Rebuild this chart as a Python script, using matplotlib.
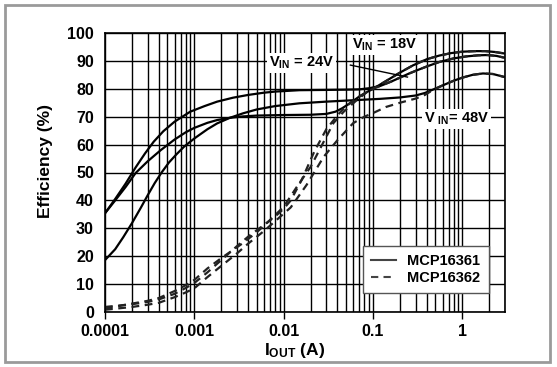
import matplotlib
matplotlib.use("Agg")
import matplotlib.pyplot as plt
from matplotlib.patches import Rectangle
from matplotlib.lines import Line2D

plt.rcParams['font.family'] = ['Liberation Sans', 'DejaVu Sans']
plt.rcParams['font.weight'] = 'bold'
plt.rcParams['mathtext.fontset'] = 'custom'
plt.rcParams['mathtext.rm'] = 'Liberation Sans:bold'
plt.rcParams['mathtext.it'] = 'Liberation Sans:bold'
plt.rcParams['mathtext.bf'] = 'Liberation Sans:bold'

# ---- data ----
# MCP16361 (solid)
i_361_24v = [1e-4, 1.3e-4, 1.7e-4, 2.2e-4, 2.8e-4, 3.5e-4, 4.5e-4, 6e-4, 9e-4, 1.3e-3, 1.8e-3, 2.7e-3, 4e-3, 6e-3, 8e-3, 0.015, 0.03, 0.05, 0.07, 0.09, 0.12, 0.16, 0.2, 0.25, 0.32, 0.4, 0.55, 0.8, 1.1, 1.5, 1.9, 2.4, 2.9]
e_361_24v = [35.4, 40.5, 46.0, 51.8, 56.8, 61.0, 64.8, 68.2, 71.8, 73.8, 75.4, 76.8, 77.8, 78.6, 79.0, 79.5, 79.6, 79.7, 79.8, 80.2, 81.0, 82.6, 84.0, 85.4, 86.8, 88.0, 89.6, 90.9, 91.6, 92.0, 92.1, 91.8, 91.2]

i_361_18v = [1e-4, 1.3e-4, 1.7e-4, 2.2e-4, 3e-4, 4.2e-4, 6e-4, 8e-4, 1e-3, 1.4e-3, 1.8e-3, 2.5e-3, 3.5e-3, 5e-3, 0.01, 0.02, 0.03, 0.038, 0.045, 0.055, 0.07, 0.085, 0.1, 0.14, 0.2, 0.28, 0.4, 0.55, 0.75, 1.0, 1.4, 1.8, 2.3, 2.9]
e_361_18v = [35.4, 40.0, 44.8, 49.8, 54.0, 58.0, 61.8, 64.4, 66.0, 67.8, 68.8, 69.6, 70.1, 70.4, 70.6, 70.7, 71.0, 71.8, 73.0, 74.8, 77.2, 78.8, 80.0, 82.8, 85.8, 88.4, 90.6, 91.9, 92.8, 93.3, 93.5, 93.5, 93.2, 92.7]

i_361_48v = [1e-4, 1.3e-4, 1.6e-4, 2e-4, 2.5e-4, 3e-4, 3.6e-4, 4.3e-4, 5.2e-4, 6.3e-4, 7.7e-4, 1e-3, 1.4e-3, 1.8e-3, 2.5e-3, 3.5e-3, 5e-3, 8e-3, 0.015, 0.03, 0.06, 0.12, 0.2, 0.3, 0.38, 0.46, 0.6, 0.8, 1.0, 1.3, 1.7, 2.2, 2.9]
e_361_48v = [18.6, 22.5, 26.8, 31.8, 37.2, 41.8, 46.2, 50.0, 53.6, 56.5, 59.3, 62.2, 65.5, 67.6, 69.6, 71.2, 72.6, 73.8, 74.8, 75.4, 75.9, 76.4, 76.9, 77.6, 78.5, 79.6, 81.2, 82.9, 84.0, 85.0, 85.5, 85.3, 84.3]

# MCP16362 (dashed)
i_362_18v = [1e-4, 2e-4, 3e-4, 4e-4, 6e-4, 8e-4, 1e-3, 1.4e-3, 2e-3, 3e-3, 4e-3, 6e-3, 8e-3, 0.01, 0.012, 0.016, 0.022, 0.03, 0.04, 0.045, 0.055, 0.07, 0.085, 0.1, 0.14, 0.2, 0.28, 0.4, 0.55, 0.75, 1.0, 1.4, 1.8, 2.3, 2.9]
e_362_18v = [1.8, 2.8, 3.6, 4.5, 6.5, 8.6, 10.4, 14.2, 18.6, 23.6, 27.0, 31.2, 34.2, 37.0, 40.0, 47.5, 57.5, 65.5, 70.5, 72.3, 74.8, 77.2, 78.8, 80.0, 82.8, 85.8, 88.4, 90.6, 91.9, 92.8, 93.3, 93.5, 93.5, 93.2, 92.7]

i_362_24v = [1e-4, 2e-4, 3e-4, 4e-4, 6e-4, 8e-4, 1e-3, 1.4e-3, 2e-3, 3.5e-3, 5e-3, 6.5e-3, 0.01, 0.014, 0.02, 0.026, 0.036, 0.047, 0.065, 0.09, 0.12, 0.16, 0.2, 0.25, 0.32, 0.4, 0.55, 0.8, 1.1, 1.5, 1.9, 2.4, 2.9]
e_362_24v = [1.2, 3.0, 4.0, 5.0, 7.5, 9.6, 11.5, 15.6, 19.3, 24.7, 28.6, 31.9, 37.7, 44.8, 52.0, 59.0, 67.7, 71.8, 75.8, 79.4, 81.0, 82.6, 84.0, 85.4, 86.8, 88.0, 89.6, 90.9, 91.6, 92.0, 92.1, 91.8, 91.2]

i_362_48v = [1e-4, 2e-4, 3e-4, 4e-4, 6e-4, 8e-4, 1e-3, 1.4e-3, 2e-3, 3e-3, 4e-3, 6e-3, 8e-3, 0.012, 0.018, 0.028, 0.04, 0.06, 0.08, 0.1, 0.14, 0.2, 0.3, 0.38, 0.46, 0.6, 0.8, 1.0, 1.3, 1.7, 2.2, 2.9]
e_362_48v = [0.8, 1.8, 2.6, 3.3, 5.3, 7.0, 8.5, 12.5, 16.5, 21.0, 24.5, 29.0, 32.5, 37.5, 45.5, 55.6, 61.6, 67.7, 70.0, 71.3, 73.5, 75.0, 76.5, 77.8, 79.4, 81.2, 82.9, 84.0, 85.0, 85.5, 85.3, 84.3]

x_ticks = [0.0001, 0.001, 0.01, 0.1, 1]
x_tick_labels = ['0.0001', '0.001', '0.01', '0.1', '1']
y_ticks = list(range(0, 101, 10))
legend_labels = ['MCP16361', 'MCP16362']

# ---- figure ----
W, H = 557, 367
fig = plt.figure(figsize=(W / 100, H / 100), dpi=100)
fig.patch.set_facecolor('white')

# outer gray frame
fig.patches.append(Rectangle((5 / W, 1 - 362 / H), (550 - 5) / W, (362 - 5) / H,
                             transform=fig.transFigure, fill=False,
                             edgecolor='#9a9a9a', linewidth=2))

ax = fig.add_axes([105 / W, 1 - 312 / H, 400 / W, 279 / H])
ax.set_xscale('log')
ax.set_xlim(1e-4, 3.0)
ax.set_ylim(0, 100)

ax.grid(True, which='major', color='black', linewidth=1.0)
ax.grid(True, which='minor', axis='x', color='black', linewidth=1.0)
ax.set_axisbelow(True)

lw = 1.6
ax.plot(i_361_24v, e_361_24v, color='black', lw=lw, ls='-')
ax.plot(i_361_18v, e_361_18v, color='black', lw=lw, ls='-')
ax.plot(i_361_48v, e_361_48v, color='black', lw=lw, ls='-')
dash = (0, (3.5, 2.5))
ax.plot(i_362_18v, e_362_18v, color='#222222', lw=lw, ls=dash)
ax.plot(i_362_24v, e_362_24v, color='#222222', lw=lw, ls=dash)
ax.plot(i_362_48v, e_362_48v, color='#222222', lw=lw, ls=dash)

ax.set_xticks(x_ticks)
ax.set_xticklabels(x_tick_labels)
ax.set_yticks(y_ticks)
ax.tick_params(axis='x', which='major', length=5, width=1, direction='out', labelsize=11.5, pad=4)
ax.tick_params(axis='x', which='minor', length=0)
ax.tick_params(axis='y', which='major', length=0, labelsize=11.5, pad=8)
for lab in ax.get_xticklabels() + ax.get_yticklabels():
    lab.set_fontweight('bold')
for s in ax.spines.values():
    s.set_linewidth(1.2)
    s.set_color('black')

ax.set_ylabel('Efficiency (%)', fontsize=12.5, fontweight='bold')
ax.yaxis.set_label_coords(-0.13, 0.54)
ax.set_xlabel(r'I$_{\rm OUT}$ (A)', fontsize=12.5, fontweight='bold')
ax.xaxis.set_label_coords(0.475, -0.105)

# annotations
bb = dict(facecolor='white', edgecolor='none', pad=1.5)
ax.text(0.0588, 95.7, r'V$_{\rm IN}$ = 18V', fontsize=10.5, fontweight='bold',
        ha='left', va='center', bbox=bb, zorder=5)
ax.text(0.0068, 89.2, r'V$_{\rm IN}$ = 24V', fontsize=10.5, fontweight='bold',
        ha='left', va='center', bbox=bb, zorder=5)
ax.text(0.37, 69.2, r'V $_{\rm IN}$= 48V', fontsize=10.5, fontweight='bold',
        ha='left', va='center', bbox=bb, zorder=5)
ax.plot([0.0558, 0.243], [88.5, 84.2], color='black', lw=1.0, zorder=4)

handles = [Line2D([], [], color='#444444', lw=1.5, ls='-'),
           Line2D([], [], color='#444444', lw=1.5, ls=(0, (3.5, 2.5)))]
leg = ax.legend(handles, legend_labels, loc='lower left', bbox_to_anchor=(0.645, 0.068),
                fancybox=False, framealpha=1, edgecolor='#555555', fontsize=10.5,
                handlelength=1.7, handletextpad=0.8, borderpad=0.55, labelspacing=0.2,
                borderaxespad=0)
leg.get_frame().set_linewidth(1.0)
for t in leg.get_texts():
    t.set_fontweight('bold')
leg.set_zorder(6)

fig.savefig('out.png', dpi=100, facecolor='white')
